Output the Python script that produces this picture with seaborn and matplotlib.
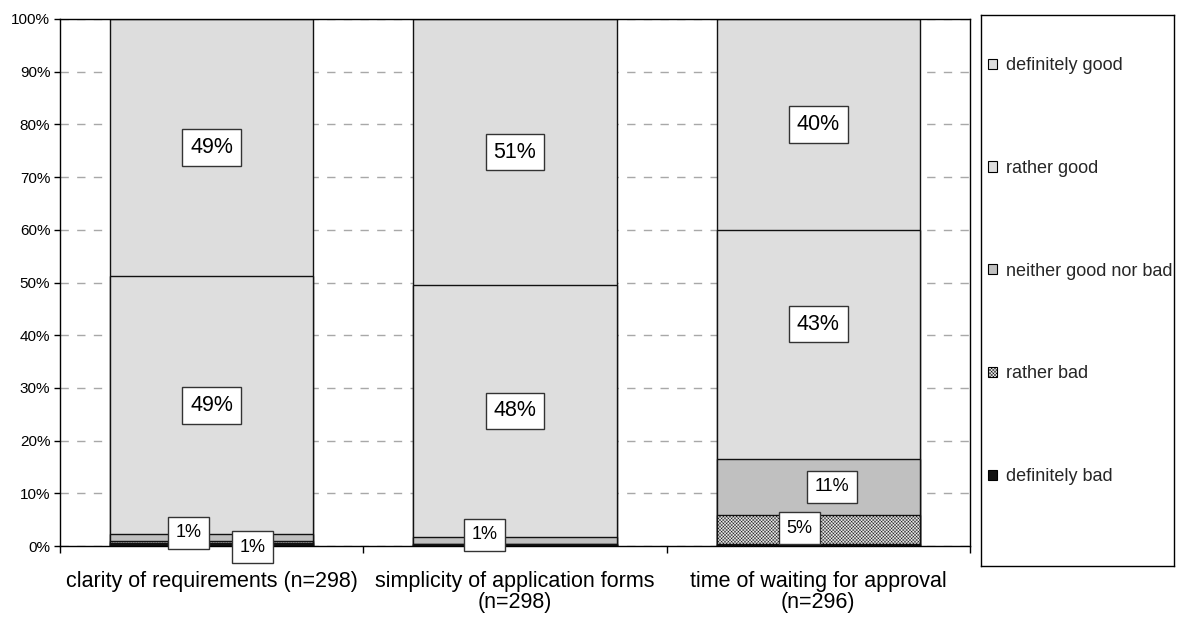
import numpy as np
import pandas as pd
import matplotlib
matplotlib.use("Agg")
import matplotlib.pyplot as plt
from matplotlib.patches import Patch
import seaborn as sns

# ---- data (percent of respondents) ----
categories = [
    "clarity of requirements (n=298)",
    "simplicity of application forms\n(n=298)",
    "time of waiting for approval\n(n=296)",
]
responses = ["definitely bad", "rather bad", "neither good nor bad",
             "rather good", "definitely good"]
definitely_bad = [0.6, 0.3, 0.4]
rather_bad = [0.4, 0.1, 5.4]
neither_good_nor_bad = [1.2, 1.4, 10.8]
rather_good = [49.0, 47.7, 43.4]
definitely_good = [48.8, 50.5, 40.0]
y_ticks = [0, 10, 20, 30, 40, 50, 60, 70, 80, 90, 100]

series = [definitely_bad, rather_bad, neither_good_nor_bad,
          rather_good, definitely_good]

# ---- styling ----
face = {
    "definitely bad": "#111111",
    "rather bad": "#e8e8e8",
    "neither good nor bad": "#c0c0c0",
    "rather good": "#dedede",
    "definitely good": "#dddddd",
}
hatch = {"rather bad": "xxxxxxxxxx"}
# label nudges (category index, response) -> (dx, dy) to keep boxes apart
nudge = {
    (0, "neither good nor bad"): (-0.076, 0.9),
    (0, "definitely bad"): (0.135, -0.5),
    (1, "neither good nor bad"): (-0.10, 1.0),
    (2, "neither good nor bad"): (0.046, 0.0),
    (2, "rather bad"): (-0.063, 0.3),
    (2, "rather good"): (0.0, 3.8),
}

sns.set_theme(style="white")
plt.rcParams["font.family"] = ["Liberation Sans", "DejaVu Sans"]
plt.rcParams["hatch.linewidth"] = 0.3

fig = plt.figure(figsize=(11.77, 6.19), dpi=100)
W, H = 1177, 619
ax = fig.add_axes([60 / W, 1 - 546 / H, 910 / W, 527 / H])
ax_leg = fig.add_axes([981 / W, 1 - 566 / H, 193 / W, 551 / H])

# long-form table with cumulative tops for stacking
rows = []
for r, vals in zip(responses, series):
    for c, v in zip(categories, vals):
        rows.append({"category": c, "response": r, "value": v})
df = pd.DataFrame(rows)
df["response"] = pd.Categorical(df["response"], responses, ordered=True)
df = df.sort_values(["category", "response"])
df["top"] = df.groupby("category", sort=False)["value"].cumsum()
df["bottom"] = df["top"] - df["value"]

# draw from the outermost layer inward so each segment sits on top
for r in responses[::-1]:
    sub = df[df["response"] == r]
    sns.barplot(data=sub, x="category", y="top", order=categories,
                color=face[r], saturation=1, width=0.67,
                edgecolor="#111111", linewidth=1.0,
                hatch=hatch.get(r, None), ax=ax, zorder=2)

# value labels
for _, row in df.iterrows():
    lbl = int(np.floor(row["value"] + 0.5))
    if lbl == 0:
        continue
    ci = categories.index(row["category"])
    dx, dy = nudge.get((ci, row["response"]), (0.0, 0.0))
    big = row["value"] >= 20
    size = 15.5 if big else 13
    pad = 0.36 if big else 0.42
    ax.text(ci + dx, (row["top"] + row["bottom"]) / 2 + dy, f"{lbl}%",
            ha="center", va="center", fontsize=size, color="black", zorder=5,
            bbox=dict(boxstyle=f"square,pad={pad}", fc="white",
                      ec="#333333", lw=1.0))

# axes
ax.set_xlim(-0.5, 2.5)
ax.set_ylim(0, 100)
ax.set_yticks(y_ticks)
ax.set_yticklabels([f"{t}%" for t in y_ticks])
ax.set_xlabel("")
ax.set_ylabel("")
ax.set_axisbelow(True)
ax.yaxis.grid(True, color="#a8a8a8", linestyle=(0, (6, 6)), linewidth=1.0)
ax.xaxis.grid(False)
for s in ax.spines.values():
    s.set_visible(True)
    s.set_color("black")
    s.set_linewidth(1.0)
ax.tick_params(axis="y", which="major", left=True, length=4, width=1,
               color="black", labelsize=11, pad=3, labelcolor="black")
ax.tick_params(axis="x", which="major", bottom=True, length=0,
               labelsize=15.5, pad=18, labelcolor="black")
ax.set_xticks([-0.5, 0.5, 1.5, 2.5], minor=True)
ax.tick_params(axis="x", which="minor", bottom=True, length=5, width=1,
               color="black", direction="out")
for t in ax.get_xticklabels():
    t.set_linespacing(1.0)

# legend panel
ax_leg.set_xticks([])
ax_leg.set_yticks([])
ax_leg.set_facecolor("white")
for s in ax_leg.spines.values():
    s.set_visible(True)
    s.set_color("black")
    s.set_linewidth(1.0)
handles = [Patch(facecolor=face[r], edgecolor="black", linewidth=0.8,
                 hatch=hatch.get(r, None)) for r in responses[::-1]]
ax_leg.legend(handles, responses[::-1], loc="center left",
              bbox_to_anchor=(0.035, 0.535), frameon=False, fontsize=13,
              handlelength=0.5, handleheight=0.5, handletextpad=0.5,
              labelspacing=4.75, borderpad=0, borderaxespad=0)

fig.savefig("out.png", dpi=100)
